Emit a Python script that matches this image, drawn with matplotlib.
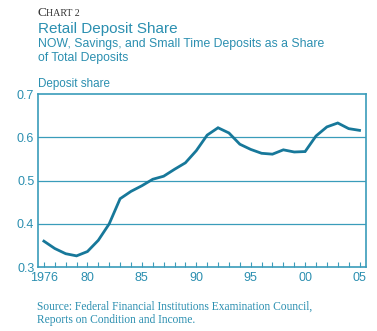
import matplotlib

matplotlib.use("Agg")
import matplotlib.pyplot as plt
from matplotlib.ticker import MultipleLocator, FixedLocator

plt.rcParams["font.family"] = "Liberation Sans"

years = list(range(1976, 2006))
share = [0.360, 0.343, 0.331, 0.326, 0.336, 0.362, 0.400, 0.458, 0.475, 0.488,
         0.503, 0.510, 0.526, 0.541, 0.569, 0.605, 0.622, 0.610, 0.584, 0.572,
         0.563, 0.561, 0.571, 0.566, 0.567, 0.603, 0.624, 0.633, 0.620, 0.616]
xtick_pos = [1976, 1980, 1985, 1990, 1995, 2000, 2005]
xtick_labels = ["1976", "80", "85", "90", "95", "00", "05"]
ytick_pos = [0.3, 0.4, 0.5, 0.6, 0.7]

line_col = "#17789a"
axis_col = "#3a9cba"
text_col = "#2b8fb0"

fig = plt.figure(figsize=(3.77, 3.31), dpi=100)
ax = fig.add_axes([0.102, 0.193, 0.869, 0.523])

for y in [0.4, 0.5, 0.6]:
    ax.axhline(y, color=axis_col, lw=0.9, zorder=1)

ax.plot(years, share, color=line_col, lw=2.0, solid_joinstyle="miter", zorder=3)

ax.set_xlim(1975.5, 2005.6)
ax.set_ylim(0.3, 0.7)
ax.xaxis.set_major_locator(FixedLocator(xtick_pos))
ax.set_xticklabels(xtick_labels)
ax.xaxis.set_minor_locator(MultipleLocator(1))
ax.set_yticks(ytick_pos)
ax.set_yticklabels([f"{v:.1f}" for v in ytick_pos])

for s in ax.spines.values():
    s.set_color(axis_col)
    s.set_linewidth(1.2)

ax.tick_params(axis="x", which="both", direction="in", length=3.5, width=0.8,
               color=axis_col, labelcolor=text_col, labelsize=9, pad=3.5)
ax.tick_params(axis="y", length=0, labelcolor=text_col, labelsize=9, pad=3)

W, H = 377, 331
def fy(py):
    return 1 - py / H

# small-caps heading: a big "C" followed by smaller capitals
fig.text(38 / W, fy(13), "C", family="Liberation Serif", fontsize=9.5,
         color="#333333", va="center")
fig.text(46.5 / W, fy(13.6), "HART 2", family="Liberation Serif", fontsize=7.2,
         color="#333333", va="center")
fig.text(38 / W, fy(29), "Retail Deposit Share", fontsize=11, color=text_col,
         va="center")
fig.text(38 / W, fy(43.5), "NOW, Savings, and Small Time Deposits as a Share",
         fontsize=8.8, color=text_col, va="center")
fig.text(38 / W, fy(57.5), "of Total Deposits", fontsize=8.8, color=text_col,
         va="center")
fig.text(38 / W, fy(84), "Deposit share", fontsize=8.4, color=text_col,
         va="center")
fig.text(37 / W, fy(306.5), "Source: Federal Financial Institutions Examination Council,",
         family="Liberation Serif", fontsize=8.3, color=text_col, va="center")
fig.text(37 / W, fy(319.5), "Reports on Condition and Income.",
         family="Liberation Serif", fontsize=8.3, color=text_col, va="center")

fig.savefig("out.png", dpi=100)
